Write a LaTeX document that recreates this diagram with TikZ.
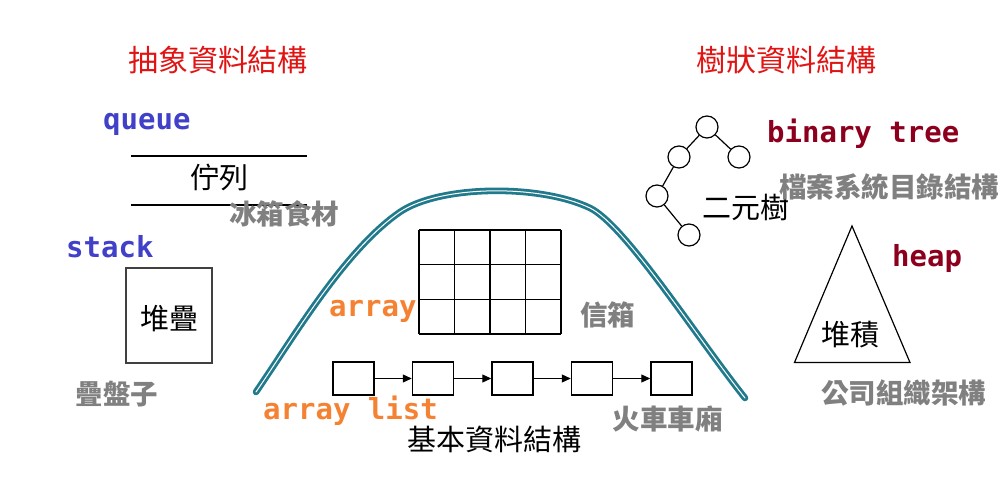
\documentclass[tikz,border=0pt]{standalone}
\usepackage{fontspec}
\usetikzlibrary{arrows.meta}
\newfontfamily\cjk{Noto Sans CJK TC}
\newfontfamily\monob{DejaVu Sans Mono}
\definecolor{titlered}{RGB}{225,20,20}
\definecolor{adtblue}{RGB}{64,64,200}
\definecolor{basicorange}{RGB}{245,130,50}
\definecolor{treered}{RGB}{140,0,30}
\definecolor{hintgray}{RGB}{128,128,128}
\definecolor{curveteal}{RGB}{33,122,140}
\tikzset{
  title/.style={font=\cjk\fontsize{30}{30}\selectfont, text=titlered, inner sep=0pt},
  label/.style={font=\cjk\fontsize{29}{29}\selectfont, inner sep=0pt},
  hint/.style={font=\cjk\bfseries\fontsize{27.5}{27.5}\selectfont, text=hintgray, inner sep=0pt},
  code/.style={font=\monob\bfseries\fontsize{29}{29}\selectfont, inner sep=0pt, anchor=base west},
  carbox/.style={draw, line width=1.5pt, minimum width=41pt, minimum height=33pt, inner sep=0pt},
  treenode/.style={circle, draw, line width=1.2pt, minimum size=22pt, inner sep=0pt},
}
\begin{document}
\begin{tikzpicture}[x=1pt,y=-1pt]
    \useasboundingbox (0,0) rectangle (1005,502);

    % Titles
    \node[title] (adt) at (218,60) {抽象資料結構};
    \node[title] (treeds) at (786,60) {樹狀資料結構};

    % Queue
    \node[code,text=adtblue] (queue) at (103,130) {queue};
    \draw[line width=1.4pt] (131,156) -- (307,156);
    \draw[line width=1.4pt] (131,205) -- (307,205);
    \node[label] (queuezh) at (219,177) {佇列};
    \node[hint] (fridge) at (284,213.5) {冰箱食材};

    % Stack
    \node[code,text=adtblue] (stack) at (66,258) {stack};
    \node[draw=black!75, line width=1.5pt, minimum width=86pt, minimum height=95pt] (stackbox) at (169,315.5) {};
    \node[label] (stackzh) at (169,318.5) {堆疊};
    \node[hint] (plates) at (117,394.5) {疊盤子};

    % Basic structures curve
    \draw[curveteal, line width=2.8pt, double=white, double distance=1pt, line cap=round]
        (256,392) .. controls (295,335) and (345,250) .. (400,212)
        .. controls (440,185) and (540,184) .. (590,208)
        .. controls (625,225) and (695,335) .. (745,398);

    % Array grid
    \foreach \gx in {419,454.5,490,525.5,561}
        \draw[line width=1.5pt] (\gx,230) -- (\gx,334);
    \foreach \gy in {230,264.7,299.3,334}
        \draw[line width=1.5pt] (419,\gy) -- (561,\gy);
    \node[code,text=basicorange] (array) at (329,317) {array};
    \node[hint] (mailbox) at (607.5,315) {信箱};

    % Linked list
    \node[carbox] (car1) at (353.5,378.5) {};
    \node[carbox] (car2) at (433,378.5) {};
    \node[carbox] (car3) at (512.5,378.5) {};
    \node[carbox] (car4) at (592,378.5) {};
    \node[carbox] (car5) at (671.5,378.5) {};
    \draw[line width=1.2pt,-{Triangle[length=9pt,width=8pt]}] (car1.east) -- (car2.west);
    \draw[line width=1.2pt,-{Triangle[length=9pt,width=8pt]}] (car2.east) -- (car3.west);
    \draw[line width=1.2pt,-{Triangle[length=9pt,width=8pt]}] (car3.east) -- (car4.west);
    \draw[line width=1.2pt,-{Triangle[length=9pt,width=8pt]}] (car4.east) -- (car5.west);
    \node[code,text=basicorange] (arraylist) at (263,420) {array list};
    \node[hint] (train) at (667.5,419) {火車車廂};
    \node[label] (basic) at (494,439.5) {基本資料結構};

    % Binary tree
    \node[treenode] (t1) at (707,127) {};
    \node[treenode] (t2) at (679,157) {};
    \node[treenode] (t3) at (739,157) {};
    \node[treenode] (t4) at (657,196) {};
    \node[treenode] (t5) at (689,235) {};
    \draw[line width=1.2pt] (t1) -- (t2);
    \draw[line width=1.2pt] (t1) -- (t3);
    \draw[line width=1.2pt] (t2) -- (t4);
    \draw[line width=1.2pt] (t4) -- (t5);
    \node[label] (bintreezh) at (745.5,207.5) {二元樹};
    \node[code,text=treered] (bintree) at (767,143) {binary tree};
    \node[hint] (filesys) at (889,186.5) {檔案系統目錄結構};

    % Heap
    \draw[line width=1.2pt] (852,226) -- (794.5,362.5) -- (910,362.5) -- cycle;
    \node[label] (heapzh) at (850,335) {堆積};
    \node[code,text=treered] (heap) at (892,267) {heap};
    \node[hint] (orgchart) at (903.5,393.5) {公司組織架構};
\end{tikzpicture}
\end{document}
